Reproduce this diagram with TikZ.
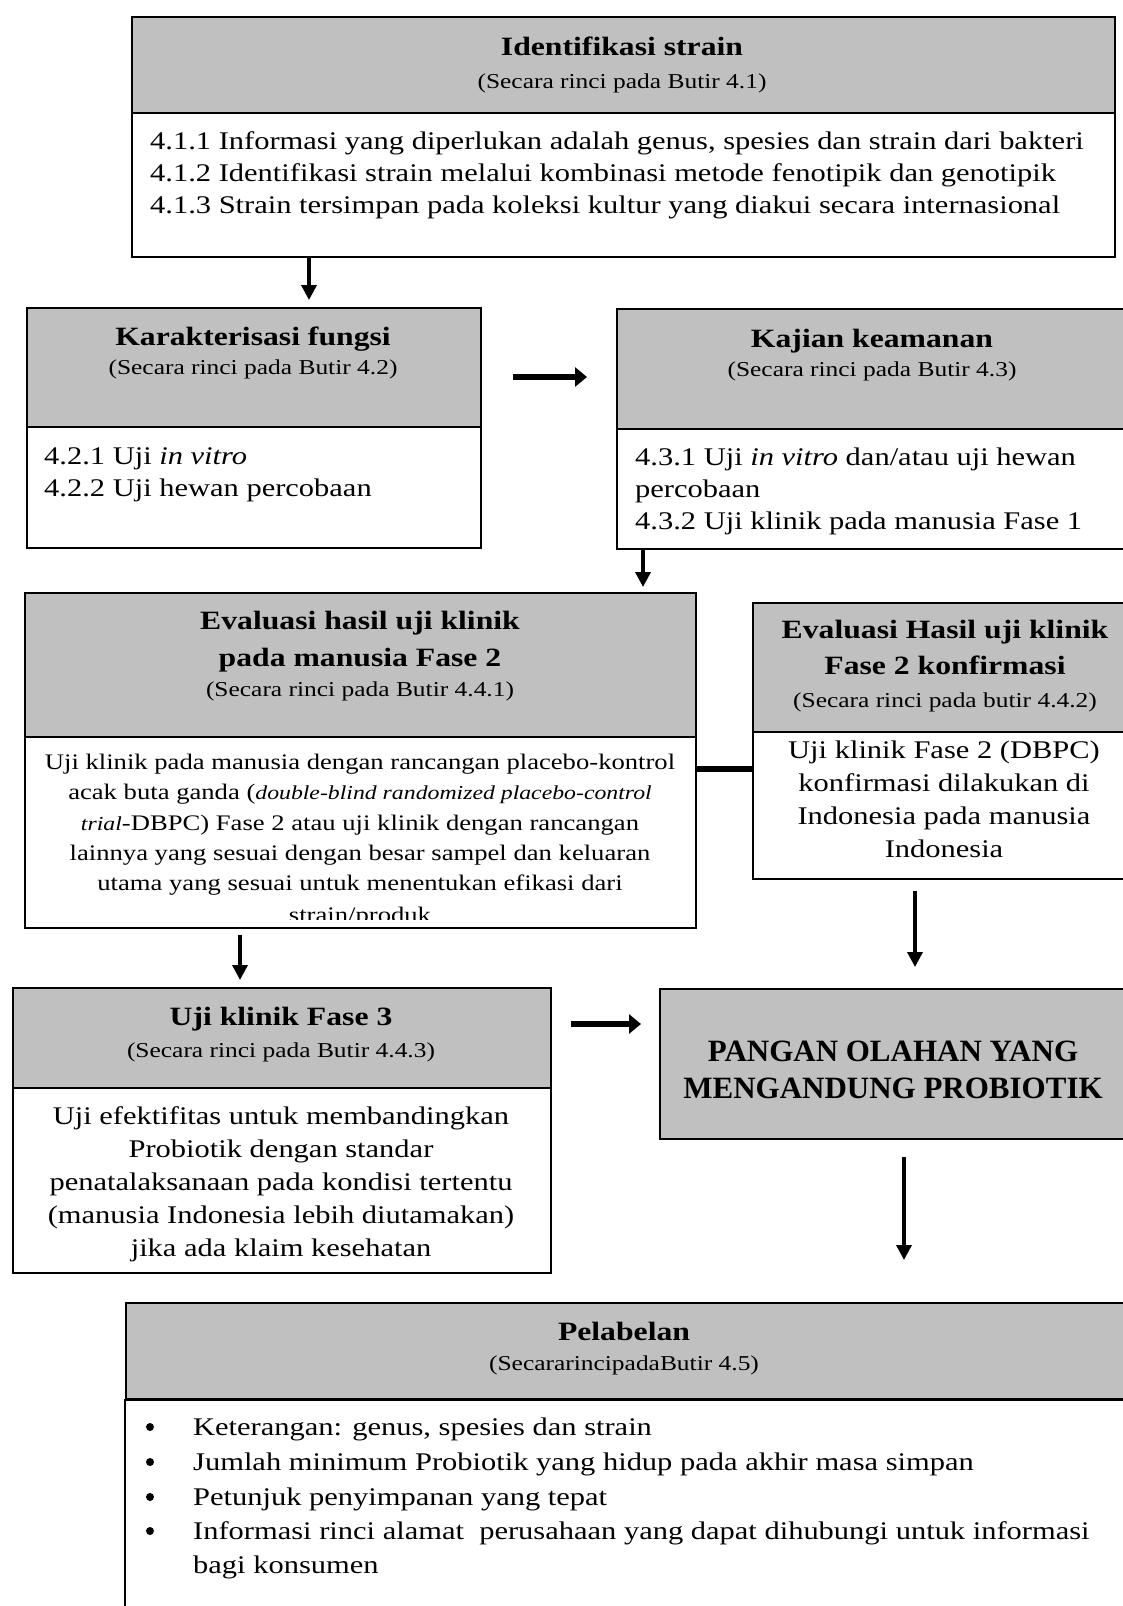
\documentclass[tikz,border=0pt]{standalone}
\usepackage{fontspec}
\setmainfont[FakeStretch=1.2]{Liberation Serif}
\newfontfamily\bigfont{Liberation Serif}
\usetikzlibrary{arrows.meta}
\definecolor{boxgray}{RGB}{192,192,192}
\tikzset{
  hdr/.style={draw=black, line width=1.8pt, fill=boxgray, inner sep=0pt, anchor=north west},
  bodybox/.style={draw=black, line width=1.8pt, fill=white, inner sep=0pt, anchor=north west},
  varrow/.style={line width=3.5pt, -{Triangle[length=15pt,width=15pt]}},
  harrow/.style={line width=6pt, -{Triangle[length=12pt,width=19pt]}},
  ttl/.style={font=\fontsize{26.4}{30}\selectfont\bfseries, inner sep=0pt, anchor=base},
  sub/.style={font=\fontsize{21.2}{24}\selectfont, inner sep=0pt, anchor=base},
  txt/.style={font=\fontsize{25.4}{32}\selectfont, inner sep=0pt, anchor=base west},
  ctxt/.style={font=\fontsize{25.4}{32}\selectfont, inner sep=0pt, anchor=base},
  stxt/.style={font=\fontsize{22.2}{30}\selectfont, inner sep=0pt, anchor=base},
  big/.style={font=\bigfont\fontsize{31}{34}\selectfont\bfseries, inner sep=0pt, anchor=base},
}
\begin{document}
\begin{tikzpicture}[x=1pt,y=-1pt]
\useasboundingbox (0,0) rectangle (1123,1606);
% ---------------- Identifikasi strain
\node[hdr, minimum width=983pt, minimum height=96pt] (h1) at (131,16) {};
\node[bodybox, minimum width=983pt, minimum height=144pt] (b1) at (131,112) {};
\node[ttl] (t1) at (622,55) {Identifikasi strain};
\node[sub] (s1) at (622,88) {(Secara rinci pada Butir 4.1)};
\node[txt] (l11) at (150,149) {4.1.1 Informasi yang diperlukan adalah genus, spesies dan strain dari bakteri};
\node[txt] (l12) at (150,181) {4.1.2 Identifikasi strain melalui kombinasi metode fenotipik dan genotipik};
\node[txt] (l13) at (150,213) {4.1.3 Strain tersimpan pada koleksi kultur yang diakui secara internasional};
% ---------------- Karakterisasi fungsi
\node[hdr, minimum width=454pt, minimum height=119pt] (h2) at (26,307) {};
\node[bodybox, minimum width=454pt, minimum height=121pt] (b2) at (26,426) {};
\node[ttl] (t2) at (253,345) {Karakterisasi fungsi};
\node[sub] (s2) at (253,374) {(Secara rinci pada Butir 4.2)};
\node[txt] (l21) at (44,464) {4.2.1 Uji \textit{in vitro}};
\node[txt] (l22) at (44,496) {4.2.2 Uji hewan percobaan};
% ---------------- Kajian keamanan
\node[hdr, minimum width=512pt, minimum height=120pt] (h3) at (616,308) {};
\node[bodybox, minimum width=512pt, minimum height=120pt] (b3) at (616,428) {};
\node[ttl] (t3) at (872,347) {Kajian keamanan};
\node[sub] (s3) at (872,376) {(Secara rinci pada Butir 4.3)};
\node[txt] (l31) at (635,465) {4.3.1 Uji \textit{in vitro} dan/atau uji hewan};
\node[txt] (l32) at (635,497) {percobaan};
\node[txt] (l33) at (635,529) {4.3.2 Uji klinik pada manusia Fase 1};
% ---------------- Evaluasi hasil uji klinik Fase 2
\node[hdr, minimum width=671pt, minimum height=144pt] (h4) at (24,592) {};
\node[bodybox, minimum width=671pt, minimum height=191pt] (b4) at (24,736) {};
\node[ttl] (t4a) at (360,629) {Evaluasi hasil uji klinik};
\node[ttl] (t4b) at (360,666) {pada manusia Fase 2};
\node[sub] (s4) at (360,696) {(Secara rinci pada Butir 4.4.1)};
\begin{scope}
\clip (b4.north west) rectangle ([yshift=9pt]b4.south east);
\node[stxt] (l41) at (360,769) {Uji klinik pada manusia dengan rancangan placebo-kontrol};
\node[stxt] (l42) at (360,799) {acak buta ganda ({\fontsize{19.8}{30}\selectfont\itshape double-blind randomized placebo-control}};
\node[stxt] (l43) at (360,830) {{\fontsize{19.8}{30}\selectfont\itshape trial}-DBPC) Fase 2 atau uji klinik dengan rancangan};
\node[stxt] (l44) at (360,860) {lainnya yang sesuai dengan besar sampel dan keluaran};
\node[stxt] (l45) at (360,890) {utama yang sesuai untuk menentukan efikasi dari};
\node[stxt] (l46) at (360,922) {strain/produk};
\end{scope}
% ---------------- Evaluasi Hasil uji klinik Fase 2 konfirmasi
\node[hdr, minimum width=375pt, minimum height=129pt] (h5) at (752,602) {};
\node[bodybox, minimum width=375pt, minimum height=147pt] (b5) at (752,731) {};
\node[ttl] (t5a) at (945,638) {Evaluasi Hasil uji klinik};
\node[ttl] (t5b) at (945,674) {Fase 2 konfirmasi};
\node[sub] (s5) at (945,707) {(Secara rinci pada butir 4.4.2)};
\node[ctxt] (l51) at (944,758) {Uji klinik Fase 2 (DBPC)};
\node[ctxt] (l52) at (944,791) {konfirmasi dilakukan di};
\node[ctxt] (l53) at (944,824) {Indonesia pada manusia};
\node[ctxt] (l54) at (944,857) {Indonesia};
% ---------------- Uji klinik Fase 3
\node[hdr, minimum width=538pt, minimum height=100pt] (h6) at (12,987) {};
\node[bodybox, minimum width=538pt, minimum height=185pt] (b6) at (12,1087) {};
\node[ttl] (t6) at (281,1025) {Uji klinik Fase 3};
\node[sub] (s6) at (281,1057) {(Secara rinci pada Butir 4.4.3)};
\node[ctxt] (l61) at (281,1124) {Uji efektifitas untuk membandingkan};
\node[ctxt] (l62) at (281,1157) {Probiotik dengan standar};
\node[ctxt] (l63) at (281,1190) {penatalaksanaan pada kondisi tertentu};
\node[ctxt] (l64) at (281,1223) {(manusia Indonesia lebih diutamakan)};
\node[ctxt] (l65) at (281,1256) {jika ada klaim kesehatan};
% ---------------- PANGAN OLAHAN
\node[hdr, minimum width=469pt, minimum height=150pt] (h7) at (659,988) {};
\node[big] (t7a) at (893,1061) {PANGAN OLAHAN YANG};
\node[big] (t7b) at (893,1098) {MENGANDUNG PROBIOTIK};
% ---------------- Pelabelan
\node[hdr, minimum width=1003pt, minimum height=96pt] (h8) at (125,1302) {};
\draw[line width=1.8pt, fill=white] (h8.south east) -- (h8.south west) -- (125,1620) -- (1128,1620);
\node[ttl] (t8) at (624,1340) {Pelabelan};
\node[sub] (s8) at (624,1370) {(SecararincipadaButir 4.5)};
\foreach \yy/\nm in {1435/1,1470/2,1505/3,1539/4}{
  \fill (150,\yy-8) circle (4pt) coordinate (bul\nm);
}
\node[txt] (l81) at (193,1435) {Keterangan: genus, spesies dan strain};
\node[txt] (l82) at (193,1470) {Jumlah minimum Probiotik yang hidup pada akhir masa simpan};
\node[txt] (l83) at (193,1505) {Petunjuk penyimpanan yang tepat};
\node[txt] (l84) at (193,1539) {Informasi rinci alamat\ \ perusahaan yang dapat dihubungi untuk informasi};
\node[txt] (l85) at (193,1573) {bagi konsumen};
% ---------------- connectors
\coordinate (x1) at (309,0);
\coordinate (x2) at (643,0);
\coordinate (x3) at (915,0);
\coordinate (x4) at (240,0);
\coordinate (x6) at (904,0);
\coordinate (y1) at (0,377);
\coordinate (y2) at (0,769);
\coordinate (y3) at (0,1024);
\draw[varrow, shorten >=7pt] (b1.south -| x1) -- (h2.north -| x1);
\draw[harrow, shorten <=31pt, shorten >=29pt] (h2.east |- y1) -- (h3.west |- y1);
\draw[varrow, shorten >=5pt] (b3.south -| x2) -- (h4.north -| x2);
\draw[line width=6pt] (b4.east |- y2) -- (b5.west |- y2);
\draw[varrow, shorten <=11pt, shorten >=21pt] (b5.south -| x3) -- (h7.north -| x3);
\draw[varrow, shorten <=6pt, shorten >=7pt] (b4.south -| x4) -- (h6.north -| x4);
\draw[harrow, shorten <=19pt, shorten >=18pt] (b6.east |- y3) -- (h7.west |- y3);
\draw[varrow, shorten <=17pt, shorten >=42pt] (h7.south -| x6) -- (h8.north -| x6);
\end{tikzpicture}
\end{document}
